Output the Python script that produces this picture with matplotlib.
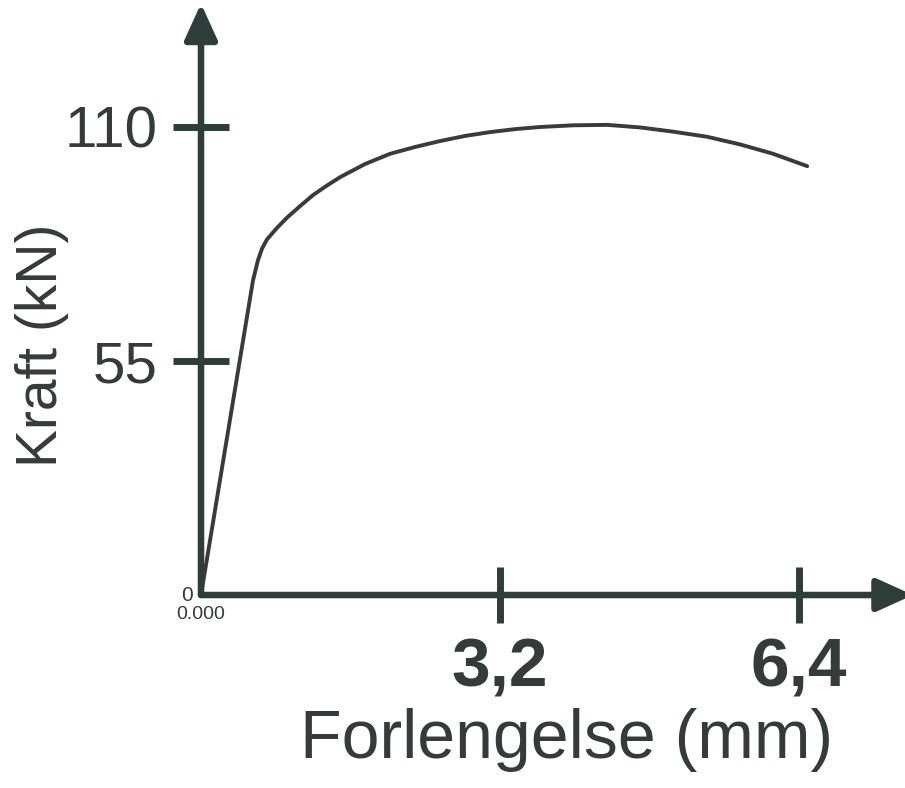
import matplotlib.pyplot as plt

plt.rcParams['font.family'] = ['Liberation Sans', 'DejaVu Sans']

# kurve lest av bildet (mm, kN)
forlengelse = [0, 0.557, 0.610, 0.653, 0.707, 0.814, 0.921, 1.060, 1.199, 1.338,
               1.488, 1.756, 2.024, 2.291, 2.559, 2.827, 3.094, 3.362, 3.630,
               3.983, 4.347, 4.700, 5.054, 5.418, 5.771, 6.124, 6.488]
kraft = [0, 74.0, 78.7, 81.4, 83.6, 86.3, 88.7, 91.4, 94.0, 96.1,
         98.2, 101.3, 103.7, 105.3, 106.7, 107.9, 108.8, 109.5, 110.0,
         110.4, 110.5, 109.9, 108.9, 107.7, 105.9, 103.7, 100.8]

x_ticks = [3.2, 6.4]
x_ticklabels = ['3,2', '6,4']
y_ticks = [55, 110]
y_ticklabels = ['55', '110']

akse = '#2f3d3a'
tekst = '#343b39'

fig = plt.figure(figsize=(9.05, 7.88), dpi=100)
ax = fig.add_axes([0.2221, 0.2449, 0.7867, 0.7462])
ax.set_xlim(0, 7.62)
ax.set_ylim(0, 138.2)

for s in ax.spines.values():
    s.set_visible(False)

ax.plot(forlengelse, kraft, color='#3a3a3a', lw=2.8, solid_capstyle='round',
        solid_joinstyle='round', zorder=3)

# akser med piler
pil = dict(arrowstyle='-|>,head_length=22,head_width=10', mutation_scale=1,
           lw=4.7, color=akse, shrinkA=0, shrinkB=0)
ax.annotate('', xy=(0, 1.006), xytext=(0, 0), xycoords='axes fraction', arrowprops=pil)
ax.annotate('', xy=(1, 0), xytext=(0, 0), xycoords='axes fraction', arrowprops=pil)

ax.set_xticks(x_ticks)
ax.set_xticklabels(x_ticklabels, fontsize=50, fontweight='bold', color=tekst)
ax.set_yticks(y_ticks)
ax.set_yticklabels(y_ticklabels, fontsize=42, color=tekst)
ax.tick_params(axis='both', direction='inout', length=40, width=5, color=akse)
ax.tick_params(axis='x', pad=10)
ax.tick_params(axis='y', pad=11)

ax.annotate('0', xy=(0, 0), xytext=(-6, 0), textcoords='offset points',
            ha='right', va='center', fontsize=15, color=tekst)
ax.annotate('0.000', xy=(0, 0), xytext=(0, -8), textcoords='offset points',
            ha='center', va='top', fontsize=14, color=tekst)

ax.set_xlabel('Forlengelse (mm)', fontsize=49, color=tekst)
ax.set_ylabel('Kraft (kN)', fontsize=41, color=tekst)
ax.xaxis.label.set_va('center')
ax.yaxis.label.set_va('center')
ax.xaxis.set_label_coords(0.514, -0.247)
ax.yaxis.set_label_coords(-0.223, 0.425)

plt.savefig('out.png', dpi=100)
